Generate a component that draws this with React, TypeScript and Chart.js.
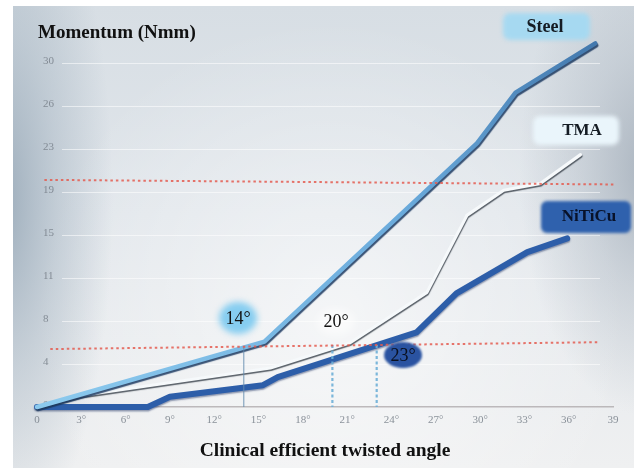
import React, { useEffect, useRef } from "react";
import { Chart, registerables } from "chart.js";

Chart.register(...registerables);

// ---- data ----
const xTickValues = [0, 3, 6, 9, 12, 15, 18, 21, 24, 27, 30, 33, 36, 39];
const yTickValues = [0, 3.75, 7.5, 11.25, 15, 18.75, 22.5, 26.25, 30];

const steelAngles = [0, 15.4, 29.8, 32.4, 37.8];
const steelMoments = [0, 5.7, 23.0, 27.4, 31.7];

const tmaAngles = [0, 3, 15.8, 21.2, 26.4, 29.1, 31.6, 34.1, 36.8];
const tmaMoments = [0, 1.0, 3.4, 5.6, 10.0, 16.7, 18.9, 19.5, 22.0];

const nitiAngles = [0, 2.7, 7.5, 9.0, 15.3, 16.3, 25.7, 28.4, 33.2, 35.9];
const nitiMoments = [0, 0, 0, 0.9, 1.9, 2.6, 6.5, 9.9, 13.5, 14.7];

const upperLimitAngles = [0.5, 39.1];
const upperLimitMoments = [19.8, 19.4];
const lowerLimitAngles = [0.9, 38.1];
const lowerLimitMoments = [5.05, 5.65];

const markerAngles = [14, 20, 23];
const markerTops = [5.3, 5.4, 5.4];

const seriesNames = ["Steel", "TMA", "NiTiCu"];
const markerLabels = ["14°", "20°", "23°"];
const yTitle = "Momentum (Nmm)";
const xTitle = "Clinical efficient twisted angle";

const pts = (xs: number[], ys: number[]) => xs.map((x, i) => ({ x, y: ys[i] }));

const SERIF = "'Liberation Serif', 'Times New Roman', serif";

const backgroundPlugin = {
  id: "bg",
  beforeDraw(chart: any) {
    const { ctx, width, height } = chart;
    ctx.save();
    ctx.fillStyle = "#ffffff";
    ctx.fillRect(0, 0, width, height);
    const L = 13, T = 6, R = 634, B = height;
    ctx.beginPath();
    ctx.rect(L, T, R - L, B - T);
    ctx.clip();
    let g = ctx.createLinearGradient(0, T, 0, B);
    g.addColorStop(0, "#d7dee4");
    g.addColorStop(0.45, "#e1e6eb");
    g.addColorStop(1, "#eff0f1");
    ctx.fillStyle = g;
    ctx.fillRect(L, T, R - L, B - T);
    const rg = ctx.createRadialGradient(330, 320, 10, 330, 320, 300);
    rg.addColorStop(0, "rgba(255,255,255,0.55)");
    rg.addColorStop(1, "rgba(255,255,255,0)");
    ctx.fillStyle = rg;
    ctx.fillRect(L, T, R - L, B - T);
    ctx.save();
    ctx.translate(L - 10, 200);
    ctx.scale(1, 3.2);
    let eg = ctx.createRadialGradient(0, 0, 0, 0, 0, 110);
    eg.addColorStop(0, "rgba(150,167,182,0.9)");
    eg.addColorStop(0.5, "rgba(160,176,190,0.45)");
    eg.addColorStop(1, "rgba(160,176,190,0)");
    ctx.fillStyle = eg;
    ctx.fillRect(-10, -120, 140, 240);
    ctx.restore();
    ctx.save();
    ctx.translate(R + 15, 170);
    ctx.scale(1, 1.9);
    eg = ctx.createRadialGradient(0, 0, 0, 0, 0, 130);
    eg.addColorStop(0, "rgba(160,171,183,0.85)");
    eg.addColorStop(0.5, "rgba(170,180,191,0.4)");
    eg.addColorStop(1, "rgba(170,180,191,0)");
    ctx.fillStyle = eg;
    ctx.fillRect(-140, -140, 160, 280);
    ctx.restore();
    ctx.restore();
  },
  beforeDatasetsDraw(chart: any) {
    const { ctx, scales } = chart;
    const y = scales.y;
    ctx.save();
    ctx.strokeStyle = "rgba(255,255,255,0.55)";
    ctx.lineWidth = 1;
    yTickValues.slice(1).forEach((v) => {
      const py = Math.round(y.getPixelForValue(v)) + 0.5;
      ctx.beginPath();
      ctx.moveTo(62, py);
      ctx.lineTo(600, py);
      ctx.stroke();
    });
    ctx.restore();
  },
};

const shadowPlugin = {
  id: "lineShadow",
  beforeDatasetDraw(chart: any, args: any) {
    const ds = chart.data.datasets[args.index];
    const ctx = chart.ctx;
    ctx.save();
    if (ds.label === "Steel") {
      ctx.shadowColor = "rgba(25,55,95,0.85)";
      ctx.shadowOffsetY = 2;
      ctx.shadowOffsetX = 1;
      ctx.shadowBlur = 1;
    } else if (ds.label === "TMA") {
      ctx.shadowColor = "rgba(60,68,78,0.85)";
      ctx.shadowOffsetY = 1.5;
      ctx.shadowOffsetX = 0.5;
      ctx.shadowBlur = 1;
    } else if (ds.label === "NiTiCu") {
      ctx.shadowColor = "rgba(20,40,90,0.45)";
      ctx.shadowOffsetY = 1.5;
      ctx.shadowBlur = 1.5;
    }
  },
  afterDatasetDraw(chart: any) {
    chart.ctx.restore();
  },
};

const annotationPlugin = {
  id: "annot",
  afterDatasetsDraw(chart: any) {
    const { ctx } = chart;
    ctx.save();
    const box = (x: number, y: number, w: number, h: number, r: number, color: string, blur: number) => {
      ctx.save();
      ctx.filter = `blur(${blur}px)`;
      ctx.fillStyle = color;
      ctx.beginPath();
      ctx.roundRect(x, y, w, h, r);
      ctx.fill();
      ctx.restore();
    };
    const blob = (cx: number, cy: number, rx: number, ry: number, color: string, blur: number) => {
      ctx.save();
      ctx.filter = `blur(${blur}px)`;
      ctx.fillStyle = color;
      ctx.beginPath();
      ctx.ellipse(cx, cy, rx, ry, 0, 0, Math.PI * 2);
      ctx.fill();
      ctx.restore();
    };
    const text = (s: string, x: number, y: number, font: string, color: string, align = "center") => {
      ctx.save();
      ctx.filter = "none";
      ctx.font = font;
      ctx.fillStyle = color;
      ctx.textAlign = align;
      ctx.textBaseline = "middle";
      ctx.fillText(s, x, y);
      ctx.restore();
    };
    box(503, 13, 87, 27, 7, "#a6d9f1", 2);
    text(seriesNames[0], 545, 27, `bold 18px ${SERIF}`, "#151c24");
    box(533, 116, 86, 29, 7, "#eaf5fb", 2);
    text(seriesNames[1], 582, 131, `bold 17px ${SERIF}`, "#151c24");
    box(541, 201, 90, 32, 6, "#2f61ad", 1.5);
    text(seriesNames[2], 589, 217, `bold 17px ${SERIF}`, "#08122a");
    blob(238, 318, 19, 16, "#86cdf0", 3);
    text(markerLabels[0], 238, 319, `18px ${SERIF}`, "#111");
    blob(336, 322, 19, 13, "rgba(255,255,255,0.55)", 4);
    text(markerLabels[1], 336, 322, `18px ${SERIF}`, "#111");
    blob(403, 355, 19, 13, "#2a53a1", 1.2);
    text(markerLabels[2], 403, 356, `18px ${SERIF}`, "#0a1020");
    text(yTitle, 38, 33, `bold 19px ${SERIF}`, "#111", "left");
    ctx.restore();
  },
};

export default function App() {
  const ref = useRef<HTMLCanvasElement | null>(null);
  useEffect(() => {
    document.body.style.margin = "0";
    const canvas = ref.current;
    if (!canvas) return;
    const steelGradient = (c: any) => {
      const chart = c.chart;
      const ca = chart.chartArea;
      if (!ca) return "#6aa6d6";
      const g = chart.ctx.createLinearGradient(ca.left, ca.bottom, ca.right, ca.top);
      g.addColorStop(0, "#8ccaee");
      g.addColorStop(0.6, "#6aaadb");
      g.addColorStop(1, "#3f73a8");
      return g;
    };
    const chart = new Chart(canvas, {
      type: "line",
      data: {
        datasets: [
          {
            label: "lowerLimit",
            data: pts(lowerLimitAngles, lowerLimitMoments),
            borderColor: "rgba(228,92,80,0.85)",
            borderWidth: 2,
            borderDash: [2.5, 3],
            pointRadius: 0,
            clip: false,
          },
          {
            label: "upperLimit",
            data: pts(upperLimitAngles, upperLimitMoments),
            borderColor: "rgba(228,92,80,0.85)",
            borderWidth: 2,
            borderDash: [2.5, 3],
            pointRadius: 0,
            clip: false,
          },
          ...markerAngles.map((a, i) => ({
            label: "marker" + a,
            data: pts([a, a], [markerTops[i], 0]),
            borderColor: i === 0 ? "rgba(100,140,175,0.75)" : "rgba(110,175,215,0.9)",
            borderWidth: i === 0 ? 1.2 : 2.2,
            borderDash: i === 0 ? [] : [3, 2.5],
            pointRadius: 0,
            clip: false,
          })),
          {
            label: "Steel",
            data: pts(steelAngles, steelMoments),
            borderColor: steelGradient,
            borderWidth: 4.5,
            borderJoinStyle: "round",
            borderCapStyle: "round",
            pointRadius: 0,
            clip: false,
          },
          {
            label: "TMA",
            data: pts(tmaAngles, tmaMoments),
            borderColor: "#f6f9fb",
            borderWidth: 3.2,
            borderJoinStyle: "round",
            borderCapStyle: "round",
            pointRadius: 0,
            clip: false,
          },
          {
            label: "NiTiCu",
            data: pts(nitiAngles, nitiMoments),
            borderColor: "#2d5ea9",
            borderWidth: 6,
            borderJoinStyle: "round",
            borderCapStyle: "round",
            pointRadius: 0,
            clip: false,
          },
        ],
      } as any,
      options: {
        responsive: false,
        animation: false,
        devicePixelRatio: 1,
        layout: { padding: { top: 17, right: 25, left: 0, bottom: 0 } },
        plugins: {
          legend: { display: false },
          tooltip: { enabled: false },
          title: { display: false },
        },
        scales: {
          x: {
            type: "linear",
            min: 0,
            max: 39,
            afterBuildTicks: (s: any) => {
              s.ticks = xTickValues.map((v) => ({ value: v }));
            },
            afterFit: (s: any) => {
              s.height = 61;
            },
            ticks: {
              autoSkip: false,
              maxRotation: 0,
              padding: 7,
              color: "rgba(120,128,138,0.85)",
              font: { family: SERIF, size: 11 },
              callback: (v: any) => (v === 0 || v === 39 ? String(v) : v + "°"),
            },
            grid: { display: false, drawTicks: false },
            border: { display: true, color: "rgba(175,170,172,0.8)", width: 1.5 },
            title: {
              display: true,
              text: xTitle,
              color: "#111",
              font: { family: SERIF, size: 19.5, weight: "bold" },
              padding: { top: 0, bottom: 5 },
            },
          },
          y: {
            type: "linear",
            min: 0,
            max: 34,
            afterBuildTicks: (s: any) => {
              s.ticks = yTickValues.map((v) => ({ value: v }));
            },
            afterFit: (s: any) => {
              s.width = 37;
            },
            ticks: {
              mirror: true,
              padding: 6,
              labelOffset: -2,
              color: "rgba(120,128,138,0.85)",
              font: { family: SERIF, size: 11 },
              callback: (v: any) => String(Math.round(v)),
            },
            grid: { display: false, drawTicks: false },
            border: { display: false },
          },
        },
      } as any,
      plugins: [backgroundPlugin, shadowPlugin, annotationPlugin],
    });
    return () => chart.destroy();
  }, []);
  return (
    <div style={{ position: "fixed", left: 0, top: 0, width: 638, height: 468 }}>
      <canvas ref={ref} width={638} height={468} />
    </div>
  );
}
